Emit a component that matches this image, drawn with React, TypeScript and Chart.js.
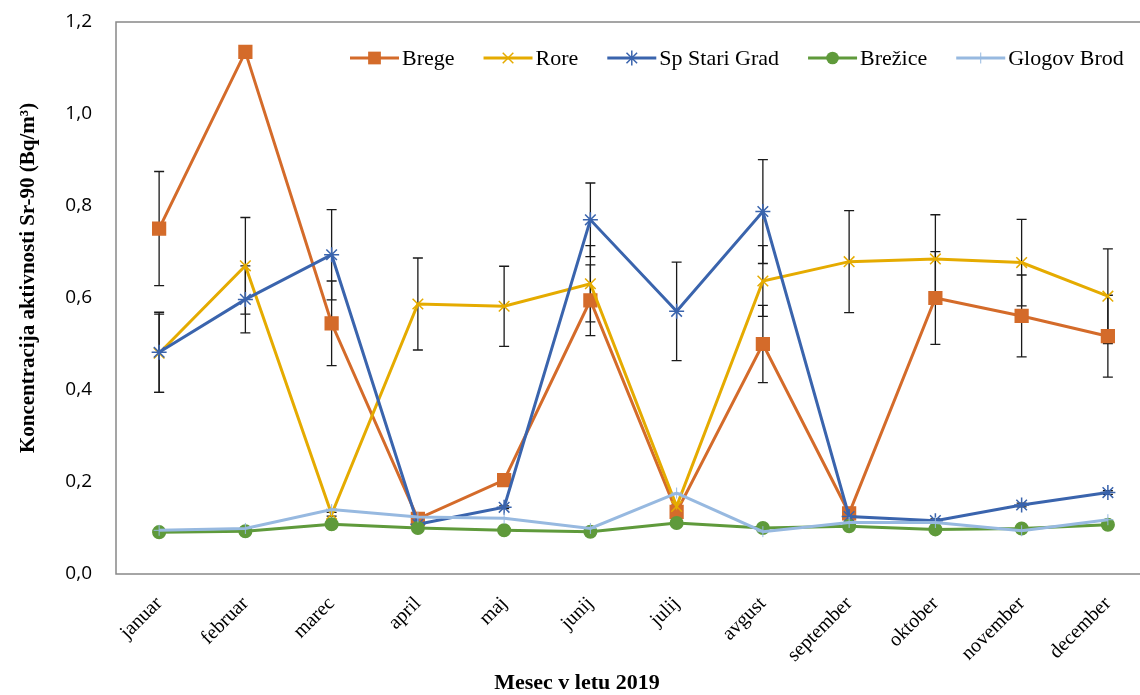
import React, { useEffect, useRef } from 'react';
import { Chart, registerables } from 'chart.js';

Chart.register(...registerables);

const months = ['januar', 'februar', 'marec', 'april', 'maj', 'junij', 'julij', 'avgust', 'september', 'oktober', 'november', 'december'];

const seriesNames = ['Brege', 'Rore', 'Sp Stari Grad', 'Brežice', 'Glogov Brod'];

const brege = [0.751, 1.135, 0.545, 0.120, 0.204, 0.595, 0.135, 0.500, 0.132, 0.600, 0.561, 0.517];
const bregeErr = [0.124, null, 0.092, 0.004, 0.004, 0.077, 0.004, 0.084, 0.004, 0.101, 0.089, 0.089];

const rore = [0.480, 0.670, 0.130, 0.587, 0.582, 0.631, 0.147, 0.637, 0.679, 0.685, 0.677, 0.604];
const roreErr = [0.085, 0.105, 0.004, 0.100, 0.087, 0.083, 0.004, 0.077, 0.111, 0.096, 0.094, 0.103];

const stariGrad = [0.482, 0.597, 0.694, 0.108, 0.145, 0.770, 0.571, 0.788, 0.125, 0.116, 0.150, 0.177];
const stariGradErr = [0.087, 0.073, 0.098, 0.004, 0.003, 0.080, 0.107, 0.113, 0.004, 0.004, 0.004, 0.004];

const brezice = [0.091, 0.093, 0.108, 0.100, 0.095, 0.092, 0.111, 0.100, 0.104, 0.097, 0.099, 0.107];

const glogovBrod = [0.095, 0.099, 0.140, 0.124, 0.121, 0.099, 0.176, 0.092, 0.112, 0.112, 0.094, 0.118];

const yTicks = [0, 0.2, 0.4, 0.6, 0.8, 1.0, 1.2];

const colors = ['#D46B2A', '#E5AB00', '#3A64AD', '#5F9A3B', '#97B9E0'];
const styles = ['rect', 'crossRot', 'star', 'circle', 'cross'];
const radii = [9, 7.5, 7.5, 6.3, 5.5];
const errors: (number | null)[][] = [bregeErr, roreErr, stariGradErr, [], []];

// the original plot area runs past the right edge of the picture (cropped)
const PLOT_RIGHT = 1151;

function drawMarker(ctx: CanvasRenderingContext2D, style: string, x: number, y: number, r: number, color: string) {
  ctx.save();
  ctx.fillStyle = color;
  ctx.strokeStyle = color;
  ctx.lineWidth = 1.5;
  ctx.beginPath();
  if (style === 'rect') {
    const s = r * Math.SQRT1_2;
    ctx.fillRect(x - s, y - s, 2 * s, 2 * s);
  } else if (style === 'circle') {
    ctx.arc(x, y, r, 0, Math.PI * 2);
    ctx.fill();
  } else if (style === 'crossRot' || style === 'star') {
    const o = r * Math.SQRT1_2;
    ctx.moveTo(x - o, y - o); ctx.lineTo(x + o, y + o);
    ctx.moveTo(x + o, y - o); ctx.lineTo(x - o, y + o);
    if (style === 'star') { ctx.moveTo(x, y - r); ctx.lineTo(x, y + r); }
    ctx.stroke();
  } else if (style === 'cross') {
    ctx.lineWidth = 1;
    ctx.moveTo(x, y - r); ctx.lineTo(x, y + r);
    ctx.moveTo(x - r, y); ctx.lineTo(x + r, y);
    ctx.stroke();
  }
  ctx.restore();
}

const layoutFixPlugin = {
  id: 'layoutFix',
  afterLayout(chart: any) {
    const right = PLOT_RIGHT;
    const xs = chart.scales.x;
    chart.chartArea.right = right;
    chart.chartArea.width = right - chart.chartArea.left;
    xs.right = right;
    xs.width = right - xs.left;
    xs.configure();
  },
};

const errorBarPlugin = {
  id: 'errorBars',
  beforeDatasetsDraw(chart: any) {
    const ctx: CanvasRenderingContext2D = chart.ctx;
    const ys = chart.scales.y;
    ctx.save();
    ctx.strokeStyle = '#1a1a1a';
    ctx.lineWidth = 1.3;
    errors.forEach((errs, di) => {
      const meta = chart.getDatasetMeta(di);
      const vals = chart.data.datasets[di].data as number[];
      errs.forEach((e, j) => {
        if (e == null) return;
        const x = meta.data[j].x;
        const yt = ys.getPixelForValue(vals[j] + e);
        const yb = ys.getPixelForValue(vals[j] - e);
        ctx.beginPath();
        ctx.moveTo(x, yt); ctx.lineTo(x, yb);
        ctx.moveTo(x - 5, yt); ctx.lineTo(x + 5, yt);
        ctx.moveTo(x - 5, yb); ctx.lineTo(x + 5, yb);
        ctx.stroke();
      });
    });
    ctx.restore();
  },
};

const decorPlugin = {
  id: 'decor',
  afterDraw(chart: any) {
    const ctx: CanvasRenderingContext2D = chart.ctx;
    const a = chart.chartArea;
    ctx.save();
    // plot border
    ctx.strokeStyle = '#888888';
    ctx.lineWidth = 1.5;
    ctx.strokeRect(a.left, a.top, a.right - a.left, a.bottom - a.top);

    // legend
    ctx.font = '22px "Liberation Serif", "Times New Roman", serif';
    ctx.textBaseline = 'middle';
    ctx.textAlign = 'left';
    let x = 350;
    const ly = 58;
    seriesNames.forEach((name, i) => {
      ctx.strokeStyle = colors[i];
      ctx.lineWidth = 3;
      ctx.beginPath();
      ctx.moveTo(x, ly); ctx.lineTo(x + 49, ly);
      ctx.stroke();
      drawMarker(ctx, styles[i], x + 24.5, ly, radii[i], colors[i]);
      ctx.fillStyle = '#000';
      ctx.fillText(name, x + 52, ly + 1);
      x += 52 + ctx.measureText(name).width + 29;
    });

    // axis titles
    ctx.fillStyle = '#000';
    ctx.font = 'bold 21px "Liberation Serif", "Times New Roman", serif';
    ctx.textAlign = 'center';
    ctx.textBaseline = 'middle';
    ctx.save();
    ctx.translate(29, 278);
    ctx.rotate(-Math.PI / 2);
    ctx.fillText('Koncentracija aktivnosti Sr-90 (Bq/m³)', 0, 0);
    ctx.restore();
    ctx.font = 'bold 22px "Liberation Serif", "Times New Roman", serif';
    ctx.fillText('Mesec v letu 2019', 577, 683);
    ctx.restore();
  },
};

const zeroPad = (s: any) => {
  s.paddingTop = 0;
  s.paddingBottom = 0;
  s.paddingLeft = 0;
  s.paddingRight = 0;
};

export default function App() {
  const ref = useRef<HTMLCanvasElement | null>(null);
  useEffect(() => {
    if (!ref.current) return;
    const dataArrays = [brege, rore, stariGrad, brezice, glogovBrod];
    const chart = new Chart(ref.current, {
      type: 'line',
      data: {
        labels: months,
        datasets: dataArrays.map((d, i) => ({
          label: seriesNames[i],
          data: d,
          borderColor: colors[i],
          backgroundColor: colors[i],
          borderWidth: 3,
          pointStyle: styles[i] as any,
          pointRadius: radii[i],
          pointBorderWidth: i === 4 ? 1 : 1.5,
          pointBorderColor: colors[i],
          pointBackgroundColor: colors[i],
          tension: 0,
          order: 4 - i,
          clip: false as any,
        })),
      },
      options: {
        animation: false,
        responsive: false,
        devicePixelRatio: 1,
        layout: { padding: { top: 22, right: 1, left: 0, bottom: 0 } },
        plugins: { legend: { display: false }, tooltip: { enabled: false } },
        scales: {
          x: {
            type: 'category',
            offset: true,
            grid: { display: false, drawTicks: false },
            border: { display: false },
            afterFit: (s: any) => { s.height = 121; zeroPad(s); },
            ticks: {
              minRotation: 45,
              maxRotation: 45,
              autoSkip: false,
              padding: 18,
              color: '#000',
              font: { family: '"Liberation Serif", "Times New Roman", serif', size: 20 },
            },
          },
          y: {
            min: 0,
            max: 1.2,
            afterFit: (s: any) => { s.width = 116; zeroPad(s); },
            afterBuildTicks: (s: any) => { s.ticks = yTicks.map((v) => ({ value: v })); },
            grid: { display: false, drawTicks: false },
            border: { display: false },
            ticks: {
              padding: 24,
              color: '#000',
              font: { family: '"Open Sans", sans-serif', size: 19 },
              callback: (v: any) => Number(v).toFixed(1).replace('.', ','),
            },
          },
        },
      },
      plugins: [layoutFixPlugin, errorBarPlugin, decorPlugin],
    });
    return () => chart.destroy();
  }, []);
  return (
    <div style={{ position: 'absolute', left: 0, top: 0, width: 1140, height: 695, background: '#fff', overflow: 'hidden' }}>
      <canvas ref={ref} width={1140} height={695} style={{ display: 'block' }} />
    </div>
  );
}
